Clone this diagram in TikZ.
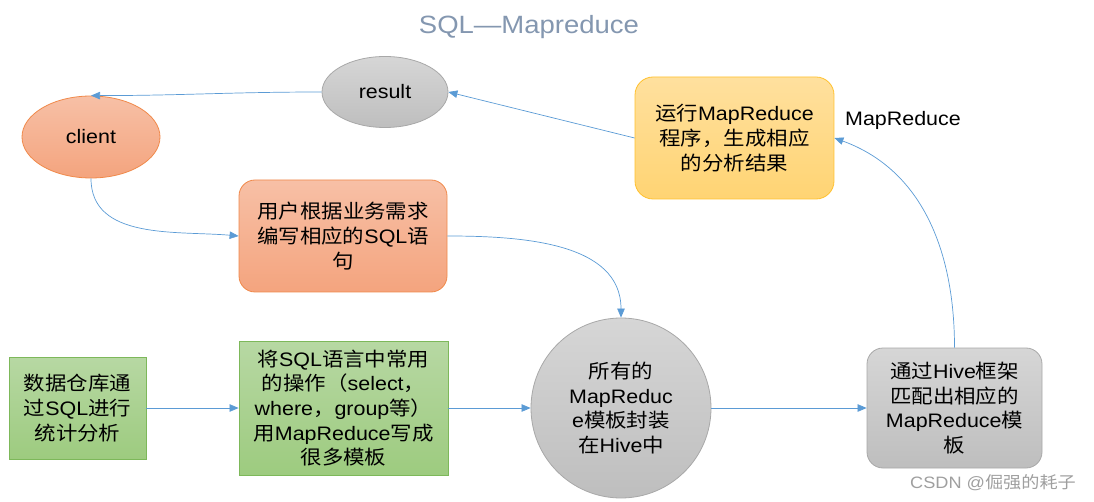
\documentclass[tikz,border=0pt]{standalone}
\usepackage{fontspec}
\setmainfont[FakeStretch=1.1]{Liberation Sans}
\newfontfamily\zhfont[FakeStretch=1.1]{Noto Sans CJK SC}
\newcommand\zh[1]{{\zhfont #1}}
\usetikzlibrary{arrows.meta,shapes.geometric}
\definecolor{arrowblue}{HTML}{5B9BD5}
\definecolor{titlecol}{HTML}{8497B0}
\definecolor{orTop}{HTML}{F7C0A6}
\definecolor{orBot}{HTML}{F4A47E}
\definecolor{orLine}{HTML}{F0894A}
\definecolor{yeTop}{HTML}{FFE09E}
\definecolor{yeBot}{HTML}{FFD473}
\definecolor{yeLine}{HTML}{FFC12E}
\definecolor{grTop}{HTML}{B7D8A3}
\definecolor{grBot}{HTML}{9DCB7F}
\definecolor{grLine}{HTML}{7DB85A}
\definecolor{gyTop}{HTML}{D6D6D6}
\definecolor{gyBot}{HTML}{BEBEBE}
\definecolor{gyLine}{HTML}{A8A8A8}
\begin{document}
\begin{tikzpicture}[x=1pt,y=-1pt,
  every node/.style={font=\fontsize{19.5}{24.7}\selectfont, align=center, inner sep=0pt},
  conn/.style={draw=arrowblue, line width=0.7pt, -{Triangle[length=9pt,width=7.5pt]}},
  orangefill/.style={draw=orLine, line width=0.8pt, top color=orTop, bottom color=orBot},
  yellowfill/.style={draw=yeLine, line width=0.8pt, top color=yeTop, bottom color=yeBot},
  greenfill/.style={draw=grLine, line width=0.8pt, top color=grTop, bottom color=grBot},
  grayfill/.style={draw=gyLine, line width=0.8pt, top color=gyTop, bottom color=gyBot},
  rbox/.style={rectangle, rounded corners=16pt},
  sbox/.style={rectangle}
]
\useasboundingbox (0,0) rectangle (1094,502);
\node[text=titlecol, font=\fontsize{25}{30}\selectfont] (title) at (529,27) {SQL—Mapreduce};

\node[grayfill, ellipse, minimum width=126pt, minimum height=71pt] (res) at (385,92) {result};
\node[orangefill, ellipse, minimum width=138pt, minimum height=82pt] (cli) at (91,137) {client};
\node[orangefill, rbox, minimum width=208pt, minimum height=112pt] (req) at (343,236)
  {\zh{用户根据业务需求}\\\zh{编写相应的}SQL\zh{语}\\\zh{句}};
\node[yellowfill, rbox, rounded corners=18pt, minimum width=199pt, minimum height=122pt] (run) at (734.5,138)
  {\zh{运行}MapReduce\\\zh{程序，生成相应}\\\zh{的分析结果}};
\node (mrlbl) at (903,120) {MapReduce};
\node[greenfill, sbox, minimum width=137pt, minimum height=102pt] (dw) at (77.5,408)
  {\zh{数据仓库通}\\\zh{过}SQL\zh{进行}\\\zh{统计分析}};
\node[greenfill, sbox, minimum width=209pt, minimum height=134pt] (tpl) at (343.5,408)
  {\zh{将}SQL\zh{语言中常用}\\\zh{的操作（}select\zh{，}\\where\zh{，}group\zh{等）}\\\zh{用}MapReduce\zh{写成}\\\zh{很多模板}};
\node[grayfill, circle, minimum size=180pt] (hivec) at (621,408)
  {\zh{所有的}\\MapReduc\\e\zh{模板封装}\\\zh{在}Hive\zh{中}};
\node[grayfill, rbox, minimum width=175pt, minimum height=120pt] (match) at (954.5,408)
  {\zh{通过}Hive\zh{框架}\\\zh{匹配出相应的}\\MapReduce\zh{模}\\\zh{板}};
\node[text=gray!75, font=\fontsize{16.5}{18}\selectfont] (wm) at (993,483) {CSDN @\zh{倔强的耗子}};

\draw[conn] (res.west) to[out=180,in=0] (cli.north);
\draw[conn] (cli.south) to[out=-90,in=175] (req.west);
\draw[conn] (req.east) to[out=0,in=90] (hivec.north);
\draw[conn] (dw.east) -- (tpl.west);
\draw[conn] (tpl.east) -- (hivec.west);
\draw[conn] (hivec.east) -- (match.west);
\draw[conn] (match.north) to[out=90,in=-20] (run.east);
\draw[conn] (run.west) -- (res.east);
\end{tikzpicture}
\end{document}
